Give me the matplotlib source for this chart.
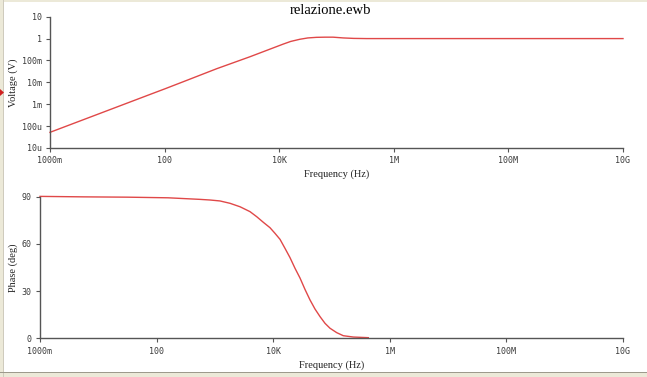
import matplotlib
matplotlib.use("Agg")
import matplotlib.pyplot as plt
from matplotlib.patches import Rectangle, Polygon

# ---- data ----
mag_freq = [1, 10, 55.6, 100, 212, 811, 3090, 11750, 15850, 22900, 31600,
            44700, 63100, 87100, 131800, 199500, 338800, 1.26e6, 1e7, 1e8, 1e9, 1e10]
mag_volt = [5.2e-5, 5.1e-4, 2.8e-3, 5.0e-3, 1.07e-2, 4.2e-2, 0.148, 0.56, 0.74,
            0.93, 1.07, 1.14, 1.16, 1.16, 1.07, 1.02, 1.0, 1.0, 1.0, 1.0, 1.0, 1.0]

ph_freq = [1, 5.5, 31.6, 158, 555, 824, 1222, 1816, 2700, 4000, 5210, 6780,
           8810, 10740, 13090, 15920, 19410, 23660, 28840, 35080, 42760, 52120,
           63530, 77450, 94190, 122700, 159200, 237100, 427600]
ph_deg = [90.2, 89.9, 89.7, 89.3, 88.3, 87.9, 87.3, 85.8, 83.6, 80.5, 77.3, 73.7,
          70.3, 66.7, 62.9, 57.2, 51.3, 44.5, 38.3, 31.1, 24.4, 18.6,
          13.8, 9.5, 6.4, 3.6, 1.65, 0.8, 0.4]

x_ticks = [1, 100, 1e4, 1e6, 1e8, 1e10]
x_labels = ["1000m", "100", "10K", "1M", "100M", "10G"]
v_ticks = [1e-5, 1e-4, 1e-3, 1e-2, 1e-1, 1, 10]
v_labels = ["10u", "100u", "1m", "10m", "100m", "1", "10"]
p_ticks = [0, 30, 60, 90]
p_labels = ["0", "30", "60", "90"]

title = "relazione.ewb"

# ---- style ----
W, H = 647, 377
LINE = "#e04848"
SPINE = "#555555"
TXT = "#3a3a3a"
serif = "Liberation Serif"
mono = "DejaVu Sans Mono"

fig = plt.figure(figsize=(W / 100, H / 100), dpi=100)
fig.patch.set_facecolor("white")

def px(x0, y0, x1, y1):
    return [x0 / W, 1 - y1 / H, (x1 - x0) / W, (y1 - y0) / H]

ax1 = fig.add_axes(px(50, 16.7, 623, 148))
ax2 = fig.add_axes(px(40, 196.7, 623, 338.3))

for ax in (ax1, ax2):
    ax.set_facecolor("white")
    ax.set_xscale("log")
    ax.set_xlim(1, 1e10)
    for s in ("top", "right"):
        ax.spines[s].set_visible(False)
    for s in ("left", "bottom"):
        ax.spines[s].set_color(SPINE)
        ax.spines[s].set_linewidth(1.0)
    ax.set_xticks(x_ticks)
    ax.set_xticklabels(x_labels)
    ax.minorticks_off()
    ax.tick_params(axis="both", which="major", length=3, width=0.8, color=SPINE,
                   labelsize=6, labelcolor=TXT, pad=3)
    ax.set_xlabel("Frequency (Hz)", fontfamily=serif, fontsize=7.5, color="#222222",
                  va="top")

# magnitude
ax1.plot(mag_freq, mag_volt, color=LINE, lw=1.0, clip_on=False)
ax1.set_yscale("log")
ax1.set_ylim(1e-5, 10)
ax1.set_yticks(v_ticks)
ax1.set_yticklabels(v_labels)
ax1.minorticks_off()
ax1.set_ylabel("Voltage (V)", fontfamily=serif, fontsize=7.5, color="#222222")
ax1.yaxis.set_label_coords((17.5 - 50) / 573, 0.5)
ax1.xaxis.set_label_coords(0.5, (148 - 169) / 131.3)

# phase
ax2.plot(ph_freq, ph_deg, color=LINE, lw=1.0, clip_on=False)
ax2.set_ylim(0, 90)
ax2.set_yticks(p_ticks)
ax2.set_yticklabels(p_labels)
ax2.set_ylabel("Phase (deg)", fontfamily=serif, fontsize=7.5, color="#222222")
ax2.yaxis.set_label_coords((17.5 - 40) / 583, 0.5)
ax2.xaxis.set_label_coords(0.5, (338.3 - 360.5) / 141.6)

for ax in (ax1, ax2):
    for lab in ax.get_xticklabels() + ax.get_yticklabels():
        lab.set_fontfamily(mono)

fig.text(330 / W, 1 - 14 / H, title, ha="center", va="baseline",
         fontfamily=serif, fontsize=10.5, color="black")

# window frame decorations
frame = "#ece9d8"
edge = "#9d9a8c"
fig.patches.append(Rectangle((0, 1 - 2 / H), 1, 2 / H, transform=fig.transFigure,
                             facecolor=frame, edgecolor="none", zorder=5))
fig.patches.append(Rectangle((0, 0), 3 / W, 1, transform=fig.transFigure,
                             facecolor=frame, edgecolor="none", zorder=5))
fig.patches.append(Rectangle((3 / W, 0), 1 / W, 1, transform=fig.transFigure,
                             facecolor="#cfcbbd", edgecolor="none", zorder=6))
fig.patches.append(Rectangle((0, 0), 1, 4.5 / H, transform=fig.transFigure,
                             facecolor=frame, edgecolor="none", zorder=5))
fig.patches.append(Rectangle((0, 4.5 / H), 1, 1 / H, transform=fig.transFigure,
                             facecolor=edge, edgecolor="none", zorder=6))
fig.patches.append(Polygon([(0, 1 - 89 / H), (4 / W, 1 - 92.5 / H), (0, 1 - 96 / H)],
                           closed=True, transform=fig.transFigure,
                           facecolor="#d02020", edgecolor="none", zorder=7))

fig.savefig("out.png", dpi=100, facecolor=fig.get_facecolor())
